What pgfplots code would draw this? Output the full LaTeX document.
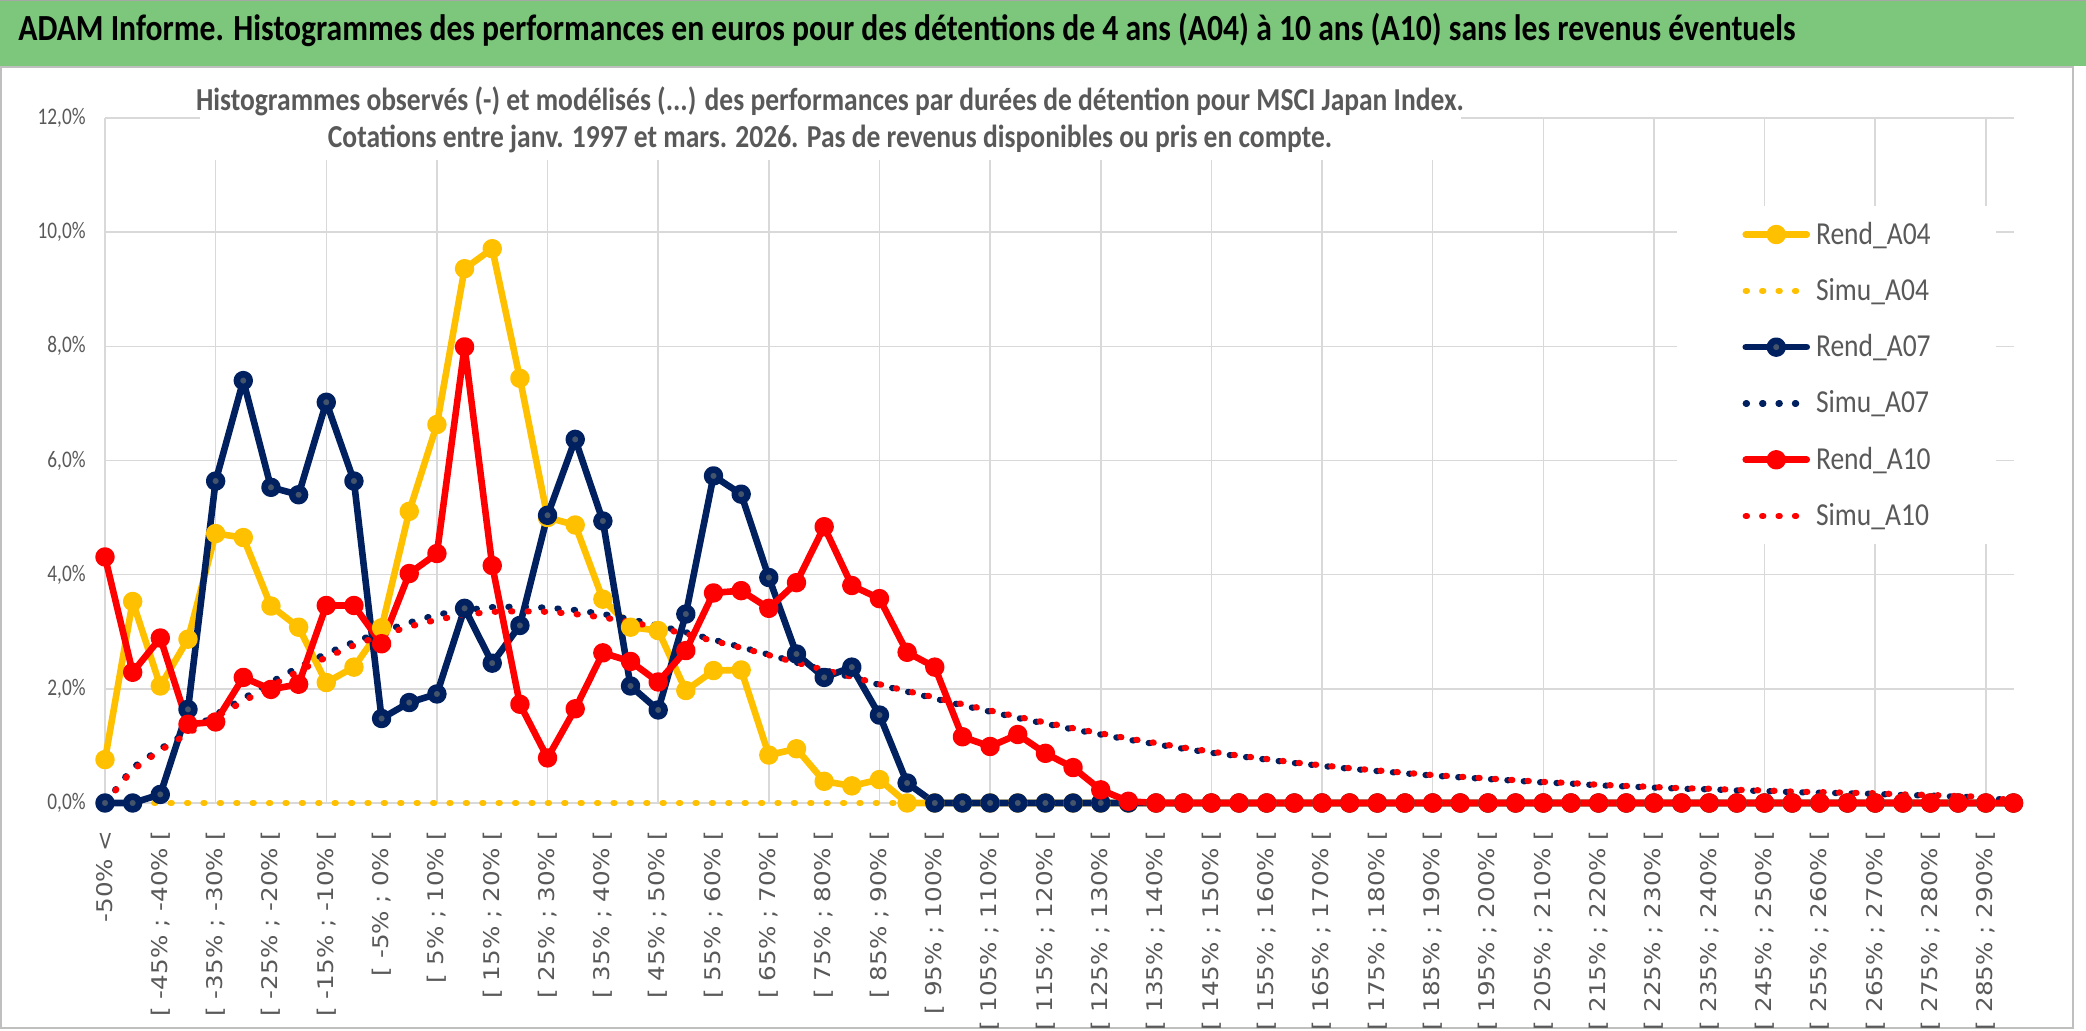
\documentclass[border=0pt]{standalone}
\usepackage{fontspec}
\setmainfont{Carlito}
\newfontfamily\calib{Carlito}[FakeStretch=0.86]
\newfontfamily\ytfont{Carlito}[FakeStretch=0.81]
\newfontfamily\xlabfont{DejaVu Sans}[FakeStretch=1.14]
\usepackage{pgfplots}
\usepackage{pgfplotstable}
\pgfplotsset{compat=1.18}
\definecolor{bandgreen}{RGB}{124,199,124}
\definecolor{gridgrey}{RGB}{217,217,217}
\definecolor{labgrey}{RGB}{89,89,89}
\definecolor{bordergrey}{RGB}{191,191,191}
\definecolor{yel}{RGB}{255,192,0}
\definecolor{navy}{RGB}{0,32,96}
\definecolor{navymark}{RGB}{68,84,106}
\definecolor{rred}{RGB}{255,0,0}

\pgfplotstableread{
x r04 s04 r07 s07 r10 s10
0 0.76 0 0 0 4.31 0
1 3.53 0 0 0.62 2.29 0.58
2 2.05 0 0.15 0.95 2.89 0.92
3 2.87 0 1.64 1.25 1.38 1.22
4 4.72 0 5.64 1.55 1.42 1.50
5 4.65 0 7.40 1.83 2.20 1.78
6 3.45 0 5.53 2.12 1.99 2.05
7 3.08 0 5.40 2.38 2.08 2.31
8 2.11 0 7.02 2.62 3.46 2.55
9 2.38 0 5.64 2.82 3.46 2.76
10 3.07 0 1.48 3.00 2.79 2.94
11 5.11 0 1.76 3.16 4.02 3.09
12 6.63 0 1.91 3.30 4.37 3.21
13 9.36 0 3.41 3.38 7.99 3.30
14 9.71 0 2.45 3.43 4.16 3.35
15 7.44 0 3.11 3.44 1.73 3.36
16 5.00 0 5.04 3.42 0.79 3.35
17 4.87 0 6.37 3.38 1.65 3.31
18 3.57 0 4.94 3.31 2.63 3.25
19 3.08 0 2.05 3.22 2.48 3.17
20 3.02 0 1.63 3.11 2.12 3.07
21 1.97 0 3.31 2.99 2.67 2.96
22 2.32 0 5.73 2.86 3.68 2.84
23 2.33 0 5.41 2.73 3.72 2.72
24 0.84 0 3.95 2.60 3.41 2.59
25 0.95 0 2.61 2.46 3.86 2.46
26 0.38 0 2.20 2.33 4.84 2.33
27 0.30 0 2.38 2.20 3.81 2.21
28 0.41 0 1.54 2.07 3.58 2.08
29 0 0 0.35 1.95 2.64 1.96
30 0 0 0 1.83 2.38 1.85
31 0 0 0 1.71 1.16 1.73
32 0 0 0 1.60 0.99 1.62
33 0 0 0 1.49 1.20 1.51
34 0 0 0 1.39 0.87 1.41
35 0 0 0 1.29 0.62 1.31
36 0 0 0 1.20 0.23 1.22
37 0 0 0 1.11 0.03 1.13
38 0 0 0 1.03 0 1.05
39 0 0 0 0.95 0 0.97
40 0 0 0 0.88 0 0.90
41 0 0 0 0.82 0 0.83
42 0 0 0 0.76 0 0.77
43 0 0 0 0.70 0 0.71
44 0 0 0 0.65 0 0.66
45 0 0 0 0.60 0 0.61
46 0 0 0 0.56 0 0.57
47 0 0 0 0.52 0 0.53
48 0 0 0 0.48 0 0.49
49 0 0 0 0.45 0 0.46
50 0 0 0 0.42 0 0.43
51 0 0 0 0.39 0 0.40
52 0 0 0 0.36 0 0.37
53 0 0 0 0.34 0 0.35
54 0 0 0 0.31 0 0.32
55 0 0 0 0.29 0 0.30
56 0 0 0 0.27 0 0.28
57 0 0 0 0.25 0 0.26
58 0 0 0 0.24 0 0.25
59 0 0 0 0.22 0 0.23
60 0 0 0 0.21 0 0.22
61 0 0 0 0.19 0 0.20
62 0 0 0 0.18 0 0.19
63 0 0 0 0.17 0 0.18
64 0 0 0 0.16 0 0.17
65 0 0 0 0.14 0 0.15
66 0 0 0 0.13 0 0.14
67 0 0 0 0.11 0 0.12
68 0 0 0 0.10 0 0.11
69 0 0 0 0.03 0 0.04
}\data

\begin{document}
\begin{tikzpicture}
\path[use as bounding box] (0pt,0pt) rectangle (1043pt,515.5pt);
\fill[bandgreen] (0pt,482.5pt) rectangle (1043pt,515.5pt);
\draw[gray!70, line width=0.6pt] (0pt,515.2pt) -- (1043pt,515.2pt);
\draw[bordergrey, line width=0.75pt] (0.4pt,1.6pt) rectangle (1036.5pt,482pt);
\node[anchor=west, inner sep=0pt, font=\calib\bfseries\fontsize{18.4pt}{21pt}\selectfont] at (9pt,500.5pt)
 {ADAM Informe. Histogrammes des performances en euros pour des détentions de 4 ans (A04) à 10 ans (A10) sans les revenus éventuels};
\begin{axis}[
  at={(52.5pt,114pt)}, anchor=south west,
  scale only axis, width=954.25pt, height=342.5pt,
  xmin=0, xmax=69, ymin=0, ymax=12,
  clip=false,
  axis line style={draw=none},
  major tick length=0pt,
  xtick={0,2,...,68},
  xticklabels={{-50\% <},{[ -45\% ; -40\% [},{[ -35\% ; -30\% [},{[ -25\% ; -20\% [},{[ -15\% ; -10\% [},{[ -5\% ; 0\% [},{[ 5\% ; 10\% [},{[ 15\% ; 20\% [},{[ 25\% ; 30\% [},{[ 35\% ; 40\% [},{[ 45\% ; 50\% [},{[ 55\% ; 60\% [},{[ 65\% ; 70\% [},{[ 75\% ; 80\% [},{[ 85\% ; 90\% [},{[ 95\% ; 100\% [},{[ 105\% ; 110\% [},{[ 115\% ; 120\% [},{[ 125\% ; 130\% [},{[ 135\% ; 140\% [},{[ 145\% ; 150\% [},{[ 155\% ; 160\% [},{[ 165\% ; 170\% [},{[ 175\% ; 180\% [},{[ 185\% ; 190\% [},{[ 195\% ; 200\% [},{[ 205\% ; 210\% [},{[ 215\% ; 220\% [},{[ 225\% ; 230\% [},{[ 235\% ; 240\% [},{[ 245\% ; 250\% [},{[ 255\% ; 260\% [},{[ 265\% ; 270\% [},{[ 275\% ; 280\% [},{[ 285\% ; 290\% [}},
  extra x ticks={0,4,...,68},
  extra x tick labels={},
  extra x tick style={grid=major},
  ytick={0,2,...,12},
  yticklabels={{0,0\%},{2,0\%},{4,0\%},{6,0\%},{8,0\%},{10,0\%},{12,0\%}},
  ymajorgrids,
  major grid style={gridgrey, line width=0.75pt},
  xticklabel style={rotate=90, anchor=east, inner sep=0pt, inner xsep=13.5pt, font=\xlabfont\fontsize{10.8pt}{13pt}\selectfont, text=labgrey},
  yticklabel style={anchor=east, inner sep=0pt, xshift=-9.5pt, font=\ytfont\fontsize{11.9pt}{14pt}\selectfont, text=labgrey},
  legend cell align=left,
  legend image code/.code={\draw[mark repeat=2,mark phase=2,#1] plot coordinates {(0pt,0pt) (15.25pt,0pt) (30.5pt,0pt)};},
  legend style={at={(0.8237,0.8715)}, anchor=north west, draw=none, fill=white,
    inner xsep=32.5pt, inner ysep=7.75pt, row sep=15.6pt, column sep=3pt,
    nodes={inner sep=0pt},
    font=\calib\fontsize{16pt}{19pt}\selectfont, text=labgrey},
  rend/.style={line width=3.3pt, line join=round, line cap=round, mark=*, mark size=3.2pt},
  simu/.style={line width=3.1pt, line cap=round, dash pattern=on 0.6pt off 7.6pt, no marks},
]
\addplot[color=yel, rend, mark options={solid, draw=none, fill=yel}] table[x=x, y=r04]{\data};
\addlegendentry{Rend\_A04}
\addplot[color=yel, simu] table[x=x, y=s04]{\data};
\addlegendentry{Simu\_A04}
\addplot[color=navy, rend, mark options={solid, draw=none, fill=navymark}] table[x=x, y=r07]{\data};
\addlegendentry{Rend\_A07}
\addplot[color=navy, simu] table[x=x, y=s07]{\data};
\addlegendentry{Simu\_A07}
\addplot[color=rred, rend, mark options={solid, draw=none, fill=rred}] table[x=x, y=r10]{\data};
\addlegendentry{Rend\_A10}
\addplot[color=rred, simu] table[x=x, y=s10]{\data};
\addlegendentry{Simu\_A10}
\end{axis}
\fill[white] (100pt,435.5pt) rectangle (730.5pt,481.5pt);
\node[inner sep=0pt, text=labgrey, font=\calib\bfseries\fontsize{16pt}{19pt}\selectfont] at (415pt,465pt)
 {Histogrammes observés (-) et modélisés (...) des performances par durées de détention pour MSCI Japan Index.};
\node[inner sep=0pt, text=labgrey, font=\calib\bfseries\fontsize{16pt}{19pt}\selectfont] at (415pt,446pt)
 {Cotations entre janv. 1997 et mars. 2026. Pas de revenus disponibles ou pris en compte.};
\end{tikzpicture}
\end{document}
